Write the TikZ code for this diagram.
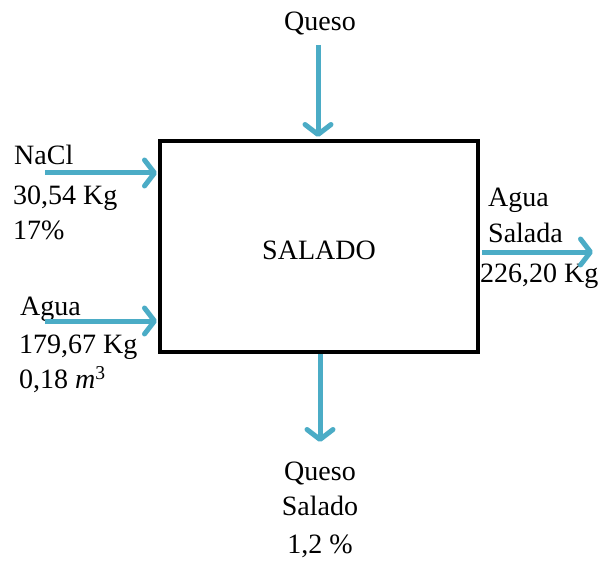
\documentclass[tikz,border=0pt]{standalone}
\usepackage{fontspec}
\setmainfont{Liberation Serif}
\usetikzlibrary{arrows.meta}
\definecolor{flowblue}{RGB}{75,172,198}

\begin{document}
\begin{tikzpicture}[x=1bp,y=-1bp,
  flow/.style={flowblue, line width=5bp, -{Straight Barb[length=10bp,width=26bp,round]}},
  lbl/.style={inner sep=0pt, anchor=base west, font=\fontsize{28bp}{33bp}\selectfont},
  clbl/.style={inner sep=0pt, anchor=base, font=\fontsize{28bp}{33bp}\selectfont}]
\useasboundingbox (0,0) rectangle (614,561);

% Process box
\draw[line width=4bp] (160,141) rectangle (478,352);
\node[inner sep=0pt, font=\fontsize{28bp}{33bp}\selectfont] (salado) at (319,250) {SALADO};
\coordinate (boxN) at (319,141);
\coordinate (boxS) at (319,352);
\coordinate (boxW) at (160,250);
\coordinate (boxE) at (478,250);

% Queso in (top)
\node[clbl] (queso) at (320,31) {Queso};
\coordinate (qin) at (318,45);
\draw[flow, shorten >=4bp] (qin) -- (qin |- boxN);

% NaCl in
\node[lbl] (nacl) at (14,165) {NaCl};
\node[lbl] (naclkg) at (13,205) {30,54 Kg};
\node[lbl] (naclpc) at (13,240) {17\%};
\coordinate (nin) at (45,173);
\draw[flow, shorten >=3bp] (nin) -- (nin -| boxW);

% Agua in
\node[lbl] (agua) at (20,315) {Agua};
\node[lbl] (aguakg) at (19,353) {179,67 Kg};
\node[lbl] (aguam) at (19,388) {0,18 \textit{m}\textsuperscript{3}};
\coordinate (ain) at (45,321);
\draw[flow, shorten >=3bp] (ain) -- (ain -| boxW);

% Agua salada out
\node[lbl] (asal) at (488,207) {Agua};
\node[lbl] (asal2) at (488,243) {Salada};
\node[lbl] (asalkg) at (480,282) {226,20 Kg};
\coordinate (aout) at (593,252);
\draw[flow, shorten <=4bp] (aout -| boxE) -- (aout);

% Queso salado out (bottom)
\coordinate (qout) at (320,442);
\draw[flow, shorten <=2bp] (qout |- boxS) -- (qout);
\node[clbl] (qs1) at (320,480) {Queso};
\node[clbl] (qs2) at (320,515) {Salado};
\node[clbl] (qs3) at (320,553) {1,2 \%};
\end{tikzpicture}
\end{document}
